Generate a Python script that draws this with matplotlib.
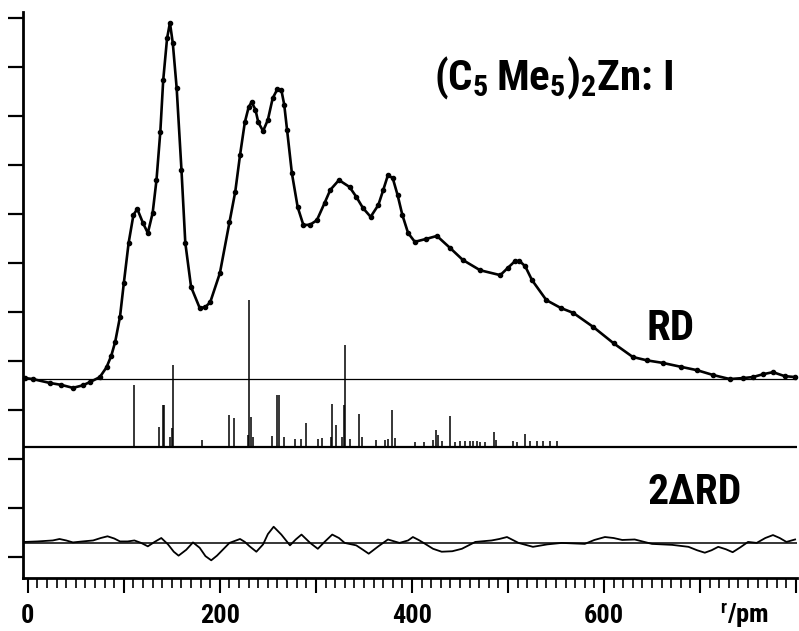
"""Radial distribution curve of (C5Me5)2Zn with sticks and difference curve."""
import matplotlib
matplotlib.use("Agg")
import matplotlib.pyplot as plt
import matplotlib.font_manager as fm
from matplotlib.ticker import MultipleLocator


def pick_font():
    # the original lettering is a narrow stencil face; take the narrowest one we have
    entries = fm.fontManager.ttflist
    names = {f.name for f in entries}
    for name in ("Liberation Sans Narrow", "Roboto Condensed", "Open Sans Condensed"):
        if name in names:
            return name, "normal"
    for f in entries:
        if f.name == "DejaVu Sans" and "condensed" in str(f.stretch):
            return "DejaVu Sans", "condensed"
    if "Roboto" in names:
        return "Roboto", "normal"
    return "DejaVu Sans", "normal"


FONT, STRETCH = pick_font()
plt.rcParams["font.family"] = [FONT, "DejaVu Sans"]
plt.rcParams["font.stretch"] = STRETCH

# experimental radial distribution, r in pm, height above its own baseline
rd_r = [-3, 5, 23, 35, 47, 57, 65, 75, 82, 87, 91, 96, 100, 105, 110, 114, 120, 125,
        130, 134, 138, 141, 145, 148, 151, 155, 160, 164, 170, 179, 185, 190, 200,
        210, 216, 221, 226, 230, 233, 237, 240, 245, 250, 255, 260, 264, 267, 270,
        275, 281, 287, 294, 301, 309, 315, 324, 335, 342, 349, 357, 365, 370, 375,
        380, 385, 390, 396, 403, 415, 426, 440, 453, 471, 492, 500, 507, 512, 518,
        525, 540, 555, 568, 589, 610, 630, 645, 661, 680, 697, 714, 731, 745, 755,
        766, 776, 788, 799]
rd_val = [0.02, 0.0, -0.08, -0.12, -0.18, -0.13, -0.06, 0.04, 0.24, 0.48, 0.76, 1.27,
          1.96, 2.78, 3.35, 3.47, 3.18, 2.98, 3.39, 4.06, 5.05, 6.10, 6.95, 7.27,
          6.85, 5.94, 4.27, 2.78, 1.88, 1.45, 1.47, 1.57, 2.16, 3.20, 3.82, 4.57,
          5.24, 5.55, 5.65, 5.50, 5.24, 5.06, 5.29, 5.73, 5.92, 5.90, 5.60, 5.08,
          4.20, 3.51, 3.14, 3.15, 3.24, 3.59, 3.86, 4.06, 3.92, 3.72, 3.49, 3.31,
          3.55, 3.85, 4.16, 4.10, 3.76, 3.35, 2.98, 2.80, 2.86, 2.92, 2.67, 2.43,
          2.22, 2.12, 2.27, 2.40, 2.41, 2.30, 2.02, 1.61, 1.45, 1.35, 1.06, 0.73,
          0.45, 0.38, 0.33, 0.25, 0.18, 0.08, 0.0, 0.02, 0.04, 0.10, 0.14, 0.06, 0.04]

# model distances (sticks), r in pm and relative weight
stick_r = [111, 137, 141, 142, 148, 150, 151, 181, 209, 215, 229, 230, 232, 234,
           254, 260, 262, 267, 278, 285, 290, 302, 306, 316, 317, 321, 327, 329,
           330, 335, 345, 348, 363, 372, 375, 379, 382, 403, 413, 422, 425, 427,
           431, 440, 445, 450, 455, 460, 464, 468, 471, 476, 485, 488, 505, 509,
           518, 523, 530, 537, 544, 551]
stick_h = [1.27, 0.41, 0.86, 0.86, 0.20, 0.39, 1.67, 0.14, 0.65, 0.59, 0.24, 3.00,
           0.61, 0.20, 0.22, 1.06, 1.06, 0.20, 0.16, 0.16, 0.49, 0.16, 0.18, 0.20,
           0.88, 0.45, 0.20, 0.86, 2.08, 0.16, 0.67, 0.20, 0.14, 0.14, 0.16, 0.76,
           0.18, 0.10, 0.10, 0.14, 0.35, 0.25, 0.12, 0.63, 0.10, 0.12, 0.12, 0.12,
           0.12, 0.12, 0.10, 0.10, 0.31, 0.15, 0.12, 0.10, 0.27, 0.12, 0.12, 0.12,
           0.12, 0.12]

# difference curve (experiment - model), doubled
diff_r = [-3, 10, 26, 33, 40, 47, 57, 68, 76, 83, 90, 96, 104, 111, 118, 125, 132,
          139, 146, 152, 157, 165, 172, 179, 185, 191, 197, 203, 210, 221, 226,
          231, 238, 245, 250, 256, 264, 273, 279, 285, 294, 302, 309, 317, 324,
          330, 342, 349, 355, 365, 375, 387, 396, 401, 407, 413, 422, 431, 442,
          452, 466, 483, 491, 499, 511, 526, 541, 556, 568, 580, 590, 601, 610,
          619, 632, 650, 671, 688, 697, 705, 712, 719, 727, 734, 742, 750, 759,
          768, 776, 783, 790, 799]
diff_val = [0.02, 0.03, 0.05, 0.08, 0.05, 0.01, 0.03, 0.05, 0.10, 0.135, 0.09, 0.03,
            0.03, 0.05, 0.0, -0.07, 0.02, 0.10, -0.03, -0.18, -0.26, -0.14, 0.01,
            -0.10, -0.27, -0.355, -0.26, -0.14, 0.0, 0.08, 0.02, -0.07, -0.18,
            -0.03, 0.18, 0.33, 0.17, -0.05, 0.07, 0.17, 0.0, -0.12, 0.02, 0.17,
            0.10, 0.0, -0.05, -0.14, -0.22, -0.07, 0.07, 0.0, 0.05, 0.12, 0.06,
            -0.01, -0.12, -0.18, -0.17, -0.12, 0.02, 0.05, 0.08, 0.12, 0.0, -0.08,
            -0.03, 0.0, -0.01, -0.02, 0.06, 0.12, 0.10, 0.06, 0.07, -0.02, -0.04,
            -0.08, -0.15, -0.20, -0.15, -0.08, -0.13, -0.19, -0.09, 0.02, 0.0,
            0.10, 0.16, 0.10, 0.02, 0.07]

# vertical offsets of the three traces (in tick units)
RD_BASE = 3.63
STICK_BASE = 2.245
DIFF_BASE = 0.286

fig = plt.figure(figsize=(7.99, 6.31), dpi=100)
ax = fig.add_axes([0.0288, 0.084, 0.9687, 0.897])
ax.set_xlim(-5, 801)
ax.set_ylim(-0.43, 11.12)

# baselines
ax.axhline(RD_BASE, color="black", lw=0.9)
ax.axhline(STICK_BASE, color="black", lw=1.6)
ax.axhline(DIFF_BASE, color="black", lw=1.1)

ax.plot(rd_r, [RD_BASE + v for v in rd_val], color="black", lw=1.9,
        marker="o", ms=3.0, solid_joinstyle="round", clip_on=False)
ax.vlines(stick_r, STICK_BASE, [STICK_BASE + h for h in stick_h], color="black", lw=1.1)
ax.plot(diff_r, [DIFF_BASE + v for v in diff_val], color="black", lw=1.3,
        solid_joinstyle="round")

ax.text(548, 9.78, r"$\mathregular{(C_5\,Me_5)_2}$Zn: I", fontsize=31,
        fontweight="bold", ha="center", va="center")
ax.text(669, 4.67, "RD", fontsize=31, fontweight="bold", ha="center", va="center")
ax.text(694, 1.31, "2\u0394RD", fontsize=30, fontweight="bold", ha="center",
        va="center")
ax.text(746, -0.92, r"$\mathregular{^r/pm}$", fontsize=19, fontweight="bold",
        ha="center", va="top")

for side in ("top", "right"):
    ax.spines[side].set_visible(False)
ax.spines["left"].set_linewidth(2)
ax.spines["bottom"].set_linewidth(2)

ax.set_yticks(range(12))
ax.set_yticklabels([])
ax.tick_params(axis="y", direction="out", length=11, width=1.6)
ax.set_xticks([0, 100, 200, 300, 400, 500, 600, 700, 800])
ax.set_xticklabels(["0", "", "200", "", "400", "", "600", "", ""], fontsize=19,
                   fontweight="bold")
ax.xaxis.set_minor_locator(MultipleLocator(10))
ax.tick_params(axis="x", which="major", direction="out", length=11, width=1.5, pad=8)
ax.tick_params(axis="x", which="minor", direction="out", length=7, width=1.2)

fig.savefig("out.png", dpi=100)
